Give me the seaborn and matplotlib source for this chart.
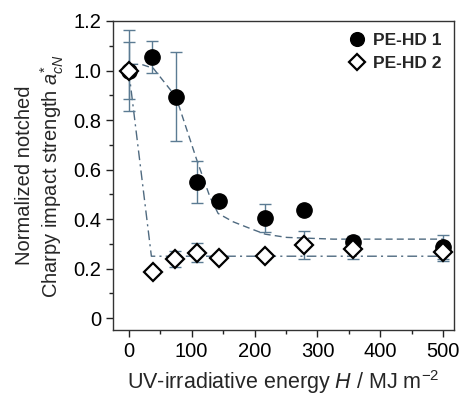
import matplotlib
matplotlib.use("Agg")
import matplotlib.pyplot as plt
import seaborn as sns
import numpy as np
import pandas as pd
from matplotlib.ticker import MultipleLocator

# Data
h1 = [0, 37, 75, 109, 144, 216, 278, 357, 500]
a1 = [1.0, 1.055, 0.895, 0.548, 0.474, 0.403, 0.438, 0.307, 0.287]
e1 = [0.165, 0.063, 0.178, 0.085, 0.012, 0.057, 0.012, 0.025, 0.05]

h2 = [0, 38, 73, 109, 144, 216, 279, 357, 500]
a2 = [1.0, 0.187, 0.238, 0.264, 0.244, 0.25, 0.295, 0.28, 0.267]
e2 = [0.115, 0.012, 0.032, 0.038, 0.01, 0.012, 0.057, 0.042, 0.035]

fit1_h = [4, 20, 39, 75, 108, 129, 142, 166, 193, 217, 251, 325, 500]
fit1_a = [1.025, 1.025, 1.009, 0.894, 0.64, 0.49, 0.423, 0.389, 0.362, 0.339, 0.326, 0.319, 0.319]
fit2_h = [0, 36, 500]
fit2_a = [1.0, 0.25, 0.25]

yticks = [0, 0.2, 0.4, 0.6, 0.8, 1.0, 1.2]
ytick_labels = ['0', '0.2', '0.4', '0.6', '0.8', '1.0', '1.2']

sns.set_style("ticks")
plt.rcParams['font.family'] = ['Liberation Sans', 'DejaVu Sans']
plt.rcParams['mathtext.fontset'] = 'custom'
plt.rcParams['mathtext.rm'] = 'Liberation Sans'
plt.rcParams['mathtext.it'] = 'Liberation Sans:italic'

fig = plt.figure(figsize=(4.61, 3.95), dpi=100)
ax = fig.add_axes([113/461, 1-330/395, (454-113)/461, (330-21)/395])

line_col = '#4f6a80'
err_col = '#5b7b93'

df1 = pd.DataFrame({'H': fit1_h, 'a': fit1_a})
df2 = pd.DataFrame({'H': fit2_h, 'a': fit2_a})
sns.lineplot(data=df1, x='H', y='a', ax=ax, color=line_col, lw=1.0,
             linestyle=(0, (5, 3)), sort=False, estimator=None)
sns.lineplot(data=df2, x='H', y='a', ax=ax, color=line_col, lw=1.0,
             linestyle=(0, (7, 3, 1.5, 3)), sort=False, estimator=None)

ax.errorbar(h1, a1, yerr=e1, fmt='none', ecolor=err_col, elinewidth=1.0,
            capsize=4, capthick=1.0, zorder=3)
ax.errorbar(h2, a2, yerr=e2, fmt='none', ecolor=err_col, elinewidth=1.0,
            capsize=4, capthick=1.0, zorder=3)

ax.plot(h1, a1, 'o', ms=11, mfc='black', mec='black', ls='none',
        label='PE-HD 1', zorder=4)
ax.plot(h2, a2, 'D', ms=9, mfc='white', mec='black', mew=1.6, ls='none',
        label='PE-HD 2', zorder=5)

ax.set_xlim(-25, 517)
ax.set_ylim(-0.048, 1.2)
ax.xaxis.set_major_locator(MultipleLocator(100))
ax.xaxis.set_minor_locator(MultipleLocator(50))
ax.yaxis.set_minor_locator(MultipleLocator(0.1))
ax.set_yticks(yticks)
ax.set_yticklabels(ytick_labels)
ax.tick_params(axis='both', which='major', direction='out', length=5, width=1,
               labelsize=14.5, colors='#222222', labelcolor='black')
ax.tick_params(axis='both', which='minor', direction='out', length=3, width=1,
               colors='#222222')
for s in ax.spines.values():
    s.set_linewidth(1.0)
    s.set_color('#333333')

ax.set_xlabel('UV-irradiative energy $\\it{H}$ / MJ m$^{-2}$', fontsize=15.5, labelpad=5)
ax.set_ylabel('Normalized notched\nCharpy impact strength $a^{*}_{cN}$', fontsize=14.5,
              labelpad=5, linespacing=1.25)

leg = ax.legend(loc='upper right', frameon=False, handletextpad=0.35,
                prop={'weight': 'bold', 'size': 12.5}, borderaxespad=0.3,
                labelspacing=0.45, handlelength=1.2, markerscale=0.9)

fig.savefig('out.png', dpi=100)
